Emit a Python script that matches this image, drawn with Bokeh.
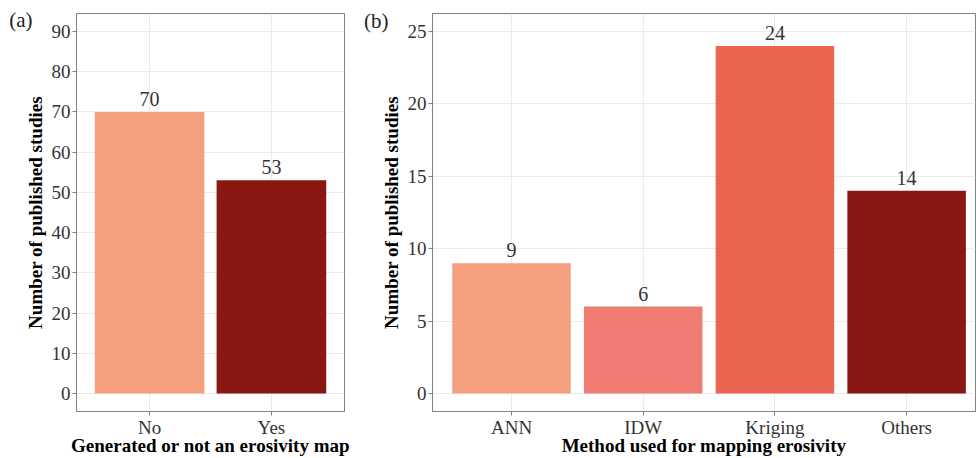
from bokeh.plotting import figure
from bokeh.layouts import row
from bokeh.models import Range1d, FixedTicker, LinearAxis, ColumnDataSource
from bokeh.embed import file_html
from bokeh.resources import INLINE
from bokeh.core.properties import value

# ---- data ----
map_categories = ["No", "Yes"]
map_counts = [70, 53]
map_colors = ["#F4A07E", "#8B1712"]

method_categories = ["ANN", "IDW", "Kriging", "Others"]
method_counts = [9, 6, 24, 14]
method_colors = ["#F4A07E", "#EF7B72", "#EB6450", "#8B1712"]

a_ticks = [0, 10, 20, 30, 40, 50, 60, 70, 80, 90]
b_ticks = [0, 5, 10, 15, 20, 25]

FONT = "Liberation Serif"
H = 458


def make_panel(cats, counts, colors, ticks, ymin, ymax, xmax, xlabel, width, mb_left, mb_right,
               tag, tag_y):
    pos = list(range(1, len(cats) + 1))
    p = figure(
        x_range=Range1d(0.4, xmax),
        y_range=Range1d(ymin, ymax),
        width=width, height=H,
        output_backend="svg", toolbar_location=None,
        min_border_left=mb_left, min_border_right=mb_right,
        min_border_top=13, min_border_bottom=44,
    )
    src = ColumnDataSource(dict(x=pos, top=counts, color=colors, lab=[str(c) for c in counts]))
    p.vbar(x="x", top="top", width=0.9, fill_color="color", line_color=None, source=src)
    p.text(x="x", y="top", text="lab", source=src, text_align="center", text_baseline="bottom",
           y_offset=-6, text_font=value(FONT), text_font_size="20px", text_color="#333333")

    p.xaxis.ticker = FixedTicker(ticks=pos)
    p.xaxis.major_label_overrides = {i: c for i, c in zip(pos, cats)}
    p.xgrid.ticker = FixedTicker(ticks=pos)
    p.yaxis.ticker = FixedTicker(ticks=ticks)
    p.ygrid.ticker = FixedTicker(ticks=ticks)
    p.yaxis.axis_label = "Number of published studies"
    p.xaxis.axis_label = xlabel
    for ax in (p.xaxis[0], p.yaxis[0]):
        ax.axis_label_text_font = FONT
        ax.axis_label_text_font_style = "bold"
        ax.axis_label_text_font_size = "19px"
        ax.axis_label_text_color = "#000000"
        ax.major_label_text_font = FONT
        ax.major_label_text_font_size = "19px"
        ax.major_label_text_color = "#333333"
        ax.axis_line_color = "#808080"
        ax.major_tick_line_color = "#808080"
        ax.major_tick_in = 0
        ax.major_tick_out = 4
        ax.minor_tick_line_color = None
        ax.axis_label_standoff = 0
        ax.major_label_standoff = 2
    p.xaxis.major_label_standoff = 1
    p.xaxis.axis_label_standoff = -6
    p.yaxis.axis_label_standoff = 3

    p.xgrid.grid_line_color = "#EBEBEB"
    p.ygrid.grid_line_color = "#EBEBEB"
    p.outline_line_color = "#808080"
    p.outline_line_alpha = 1.0
    p.background_fill_color = "#FFFFFF"
    p.border_fill_color = "#FFFFFF"

    # panel tag "(a)"/"(b)" drawn as the single label of an extra, line-less axis
    tag_axis = LinearAxis(
        ticker=FixedTicker(ticks=[tag_y]),
        major_label_overrides={tag_y: tag},
        axis_line_color=None, major_tick_line_color=None, minor_tick_line_color=None,
        major_tick_in=0, major_tick_out=0,
        major_label_text_font=FONT, major_label_text_font_size="21px",
        major_label_text_color="#222222", major_label_standoff=-11,
    )
    p.add_layout(tag_axis, "left")
    return p


p1 = make_panel(map_categories, map_counts, map_colors, a_ticks, -4.5, 94.5, 2.6,
                "Generated or not an erosivity map", 360, 76, 16, "(a)", 93.0)
p2 = make_panel(method_categories, method_counts, method_colors, b_ticks, -1.25, 26.25, 4.523,
                "Method used for mapping erosivity", 616, 72, 1, "(b)", 25.75)

layout = row(p1, p2)
open("out.html", "w").write(file_html(layout, INLINE))
